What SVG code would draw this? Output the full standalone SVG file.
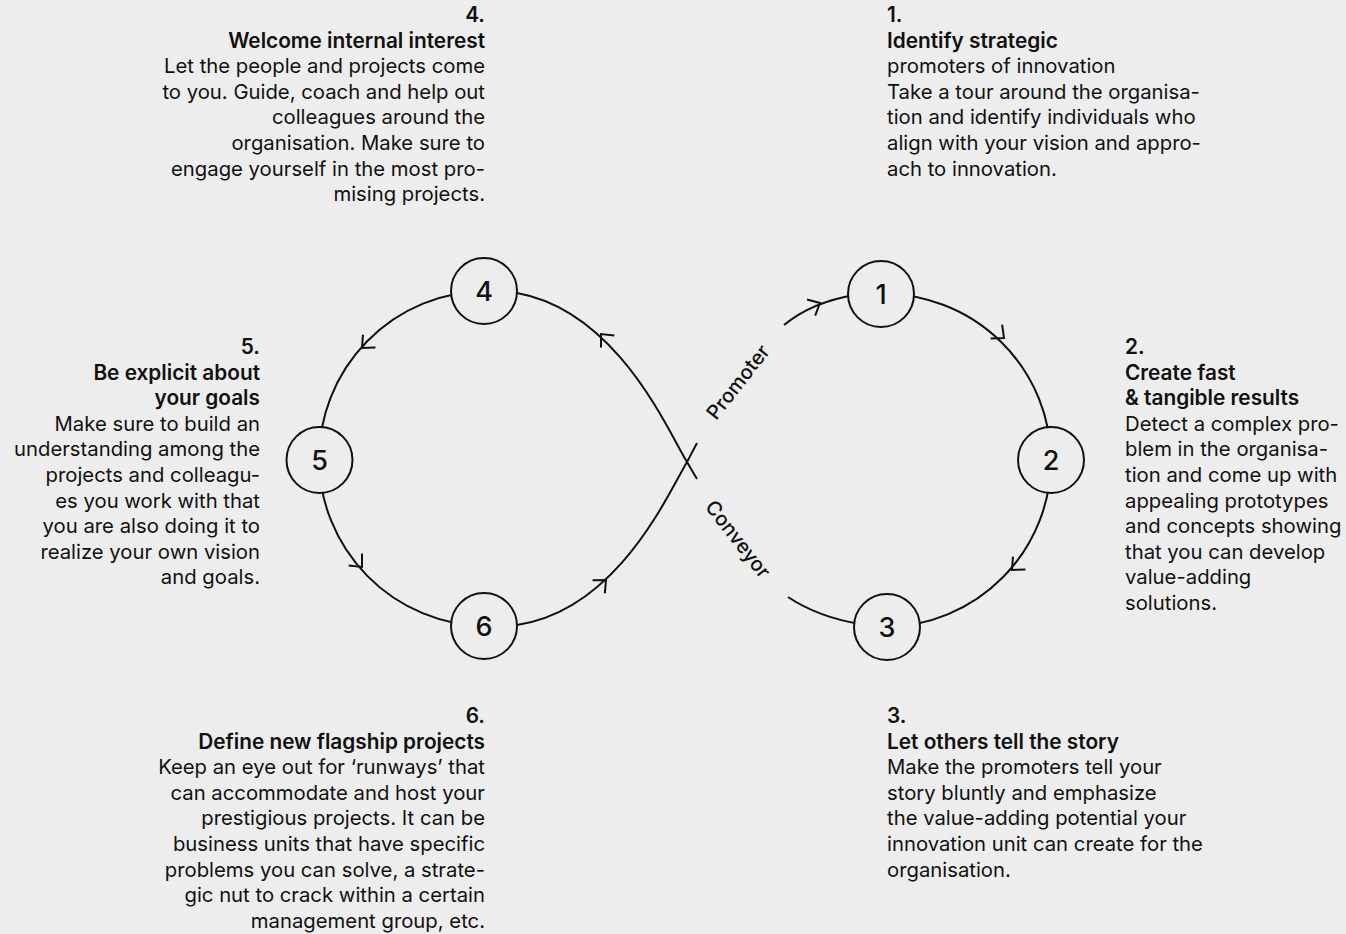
<svg xmlns="http://www.w3.org/2000/svg" width="1346" height="934" viewBox="0 0 1346 934">
<defs>
<style>
.bg{fill:#EDEDED}
.ln{fill:none;stroke:#111;stroke-width:2;stroke-linecap:butt}
.nd{fill:#EDEDED;stroke:#111;stroke-width:2}
.num{font-family:Inter,"Noto Sans",sans-serif;font-size:27px;font-weight:500;fill:#111;text-anchor:middle}
.t{font-family:Inter,"Noto Sans",sans-serif;font-size:20.3px;fill:#111}
.b{font-weight:600;font-size:20.8px}
.r{text-anchor:end}
.lab{font-family:Inter,"Noto Sans",sans-serif;font-size:20px;font-weight:500;fill:#111;text-anchor:middle}
</style>
<path id="chev" d="M-10,-9 L0,0 L-10,9" fill="none" stroke="#111" stroke-width="2"/>
</defs>
<rect class="bg" x="0" y="0" width="1346" height="934"/>
<g id="connectors">
<path class="ln" d="M484,291 A168,168 0 0 0 319,459 A168,168 0 0 0 484,626"/>
<path class="ln" d="M881,294 A167,167 0 0 1 1051,460 A167,167 0 0 1 887,627"/>
<path class="ln" d="M505,292 L517,293 C617,311 667,429 687,462 L697,479"/>
<path class="ln" d="M788,597 Q818,617 860,624"/>
<path class="ln" d="M505,626 L517,625 C617,610 667,496 687,462 L697,443"/>
<path class="ln" d="M784,325 Q812,302 855,295"/>
<use href="#chev" transform="translate(820,303) rotate(-27)"/>
<use href="#chev" transform="translate(1004,338) rotate(40)"/>
<use href="#chev" transform="translate(1012,570) rotate(136)"/>
<use href="#chev" transform="translate(601,334) rotate(-132)"/>
<use href="#chev" transform="translate(362,348) rotate(136)"/>
<use href="#chev" transform="translate(362,567) rotate(48)"/>
<use href="#chev" transform="translate(606,580) rotate(-43)"/>
<text class="lab" transform="translate(738,382) rotate(-52)" dy="7">Promoter</text>
<text class="lab" transform="translate(738,539) rotate(52)" dy="7">Conveyor</text>
</g>
<g id="node1"><circle class="nd" cx="881" cy="294" r="33"/><text class="num" x="881" y="304">1</text></g>
<g id="node2"><circle class="nd" cx="1051" cy="460" r="33"/><text class="num" x="1051" y="470">2</text></g>
<g id="node3"><circle class="nd" cx="887" cy="627" r="33"/><text class="num" x="887" y="637">3</text></g>
<g id="node4"><circle class="nd" cx="484" cy="291" r="33"/><text class="num" x="484" y="301">4</text></g>
<g id="node5"><circle class="nd" cx="319.5" cy="460" r="33"/><text class="num" x="319.5" y="470">5</text></g>
<g id="node6"><circle class="nd" cx="484" cy="626" r="33"/><text class="num" x="484" y="636">6</text></g>
<g id="text1">
<text x="887" y="22" class="t b">1.</text>
<text x="887" y="47.6" class="t b">Identify strategic</text>
<text x="887" y="73.2" class="t">promoters of innovation</text>
<text x="887" y="98.8" class="t">Take a tour around the organisa-</text>
<text x="887" y="124.4" class="t">tion and identify individuals who</text>
<text x="887" y="150" class="t">align with your vision and appro-</text>
<text x="887" y="175.6" class="t">ach to innovation.</text>
</g>
<g id="text4">
<text x="485" y="22" class="t b r">4.</text>
<text x="485" y="47.6" class="t b r">Welcome internal interest</text>
<text x="485" y="73.2" class="t r">Let the people and projects come</text>
<text x="485" y="98.8" class="t r">to you. Guide, coach and help out</text>
<text x="485" y="124.4" class="t r">colleagues around the</text>
<text x="485" y="150" class="t r">organisation. Make sure to</text>
<text x="485" y="175.6" class="t r">engage yourself in the most pro-</text>
<text x="485" y="201.2" class="t r">mising projects.</text>
</g>
<g id="text2">
<text x="1125" y="354" class="t b">2.</text>
<text x="1125" y="379.6" class="t b">Create fast</text>
<text x="1125" y="405.2" class="t b">&amp; tangible results</text>
<text x="1125" y="430.8" class="t">Detect a complex pro-</text>
<text x="1125" y="456.4" class="t">blem in the organisa-</text>
<text x="1125" y="482" class="t">tion and come up with</text>
<text x="1125" y="507.6" class="t">appealing prototypes</text>
<text x="1125" y="533.2" class="t">and concepts showing</text>
<text x="1125" y="558.8" class="t">that you can develop</text>
<text x="1125" y="584.4" class="t">value-adding</text>
<text x="1125" y="610" class="t">solutions.</text>
</g>
<g id="text5">
<text x="260" y="354" class="t b r">5.</text>
<text x="260" y="379.6" class="t b r">Be explicit about</text>
<text x="260" y="405.2" class="t b r">your goals</text>
<text x="260" y="430.8" class="t r">Make sure to build an</text>
<text x="260" y="456.4" class="t r">understanding among the</text>
<text x="260" y="482" class="t r">projects and colleagu-</text>
<text x="260" y="507.6" class="t r">es you work with that</text>
<text x="260" y="533.2" class="t r">you are also doing it to</text>
<text x="260" y="558.8" class="t r">realize your own vision</text>
<text x="260" y="584.4" class="t r">and goals.</text>
</g>
<g id="text3">
<text x="887" y="723" class="t b">3.</text>
<text x="887" y="748.6" class="t b">Let others tell the story</text>
<text x="887" y="774.2" class="t">Make the promoters tell your</text>
<text x="887" y="799.8" class="t">story bluntly and emphasize</text>
<text x="887" y="825.4" class="t">the value-adding potential your</text>
<text x="887" y="851" class="t">innovation unit can create for the</text>
<text x="887" y="876.6" class="t">organisation.</text>
</g>
<g id="text6">
<text x="485" y="723" class="t b r">6.</text>
<text x="485" y="748.6" class="t b r">Define new flagship projects</text>
<text x="485" y="774.2" class="t r">Keep an eye out for ‘runways’ that</text>
<text x="485" y="799.8" class="t r">can accommodate and host your</text>
<text x="485" y="825.4" class="t r">prestigious projects. It can be</text>
<text x="485" y="851" class="t r">business units that have specific</text>
<text x="485" y="876.6" class="t r">problems you can solve, a strate-</text>
<text x="485" y="902.2" class="t r">gic nut to crack within a certain</text>
<text x="485" y="927.8" class="t r">management group, etc.</text>
</g>
</svg>
